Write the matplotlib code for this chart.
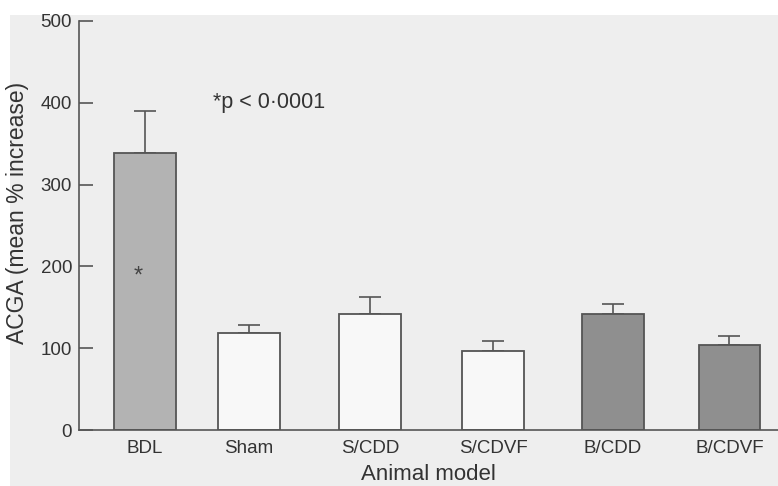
import matplotlib.pyplot as plt
import matplotlib.patches as mpatches

plt.rcParams['font.family'] = ['Liberation Sans', 'DejaVu Sans']

models = ['BDL', 'Sham', 'S/CDD', 'S/CDVF', 'B/CDD', 'B/CDVF']
mean_increase = [339, 118, 142, 96, 142, 104]
error_upper = [51, 10, 20, 13, 12, 11]
group = ['bdl', 'sham', 'sham', 'sham', 'bdl2', 'bdl2']

# layout only (bar centres, in bar-spacing units)
xpos = [0, 0.867, 1.875, 2.9, 3.9, 4.87]
fills = {'bdl': '#b3b3b3', 'sham': '#f8f8f8', 'bdl2': '#8f8f8f'}

fig = plt.figure(figsize=(7.78, 4.86), dpi=100)
fig.patch.set_facecolor('white')
# scanned page tone
fig.patches.append(mpatches.Rectangle((10 / 778, 0), 1, 1 - 15 / 486,
                                      transform=fig.transFigure,
                                      facecolor='#eeeeee', edgecolor='none',
                                      zorder=-10))

ax = fig.add_axes([79 / 778, 56 / 486, 1 - 79 / 778, 409 / 486])
ax.set_facecolor('none')

colors = [fills[g] for g in group]
ax.bar(xpos, mean_increase, width=0.51, color=colors, edgecolor='#555555',
       linewidth=1.3, zorder=2)
ax.errorbar(xpos, mean_increase, yerr=[[0] * len(models), error_upper],
            fmt='none', ecolor='#555555', elinewidth=1.2, capsize=8,
            capthick=1.2, zorder=1)

ax.set_xlim(-0.55, 5.275)
ax.set_ylim(0, 500)
ax.set_yticks([0, 100, 200, 300, 400, 500])
ax.set_xticks(xpos)
ax.set_xticklabels(models)

for s in ['top', 'right']:
    ax.spines[s].set_visible(False)
for s in ['left', 'bottom']:
    ax.spines[s].set_color('#555555')
    ax.spines[s].set_linewidth(1.2)

ax.tick_params(axis='y', direction='in', length=10, width=1.2,
               color='#555555', pad=5, labelsize=13.5, labelcolor='#333333')
ax.tick_params(axis='x', length=0, pad=7, labelsize=13.5, labelcolor='#333333')

ax.set_ylabel('ACGA (mean % increase)', fontsize=16.5, color='#333333')
ax.yaxis.set_label_coords(-0.072, 0.53)
ax.set_xlabel('Animal model', fontsize=16, color='#333333', labelpad=5)

ax.text(0.567, 400, '*p < 0·0001', fontsize=15.5, color='#333333',
        ha='left', va='center')
ax.text(-0.06, 188, '*', fontsize=17, color='#444444', ha='center',
        va='center')

fig.savefig('out.png', dpi=100, facecolor=fig.get_facecolor())
